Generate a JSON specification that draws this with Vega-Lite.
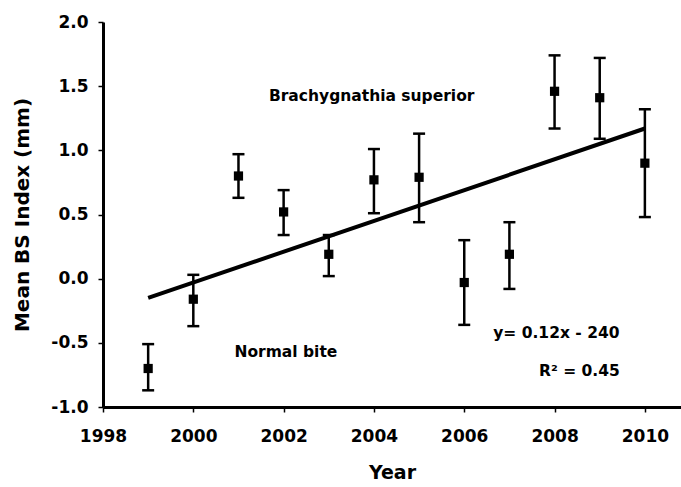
{
  "$schema": "https://vega.github.io/schema/vega-lite/v6.json",
  "width": 578,
  "height": 385,
  "autosize": {"type": "none"},
  "padding": {"left": 103, "top": 22, "right": 0, "bottom": 80},
  "background": "white",
  "config": {
    "view": {"stroke": null},
    "font": "DejaVu Sans",
    "axis": {
      "domainColor": "black", "domainWidth": 3, "tickColor": "black", "tickWidth": 1.5, "tickSize": 5,
      "labelFont": "DejaVu Sans", "labelFontWeight": "bold", "labelFontSize": 17, "labelColor": "black",
      "titleFont": "DejaVu Sans", "titleFontWeight": "bold", "titleColor": "black", "grid": false
    }
  },
  "datasets": {
    "pts": [
      {"year": 1999, "mean": -0.70, "lo": -0.87, "hi": -0.51},
      {"year": 2000, "mean": -0.16, "lo": -0.37, "hi": 0.03},
      {"year": 2001, "mean": 0.80, "lo": 0.63, "hi": 0.97},
      {"year": 2002, "mean": 0.52, "lo": 0.34, "hi": 0.69},
      {"year": 2003, "mean": 0.19, "lo": 0.02, "hi": 0.34},
      {"year": 2004, "mean": 0.77, "lo": 0.51, "hi": 1.01},
      {"year": 2005, "mean": 0.79, "lo": 0.44, "hi": 1.13},
      {"year": 2006, "mean": -0.03, "lo": -0.36, "hi": 0.30},
      {"year": 2007, "mean": 0.19, "lo": -0.08, "hi": 0.44},
      {"year": 2008, "mean": 1.46, "lo": 1.17, "hi": 1.74},
      {"year": 2009, "mean": 1.41, "lo": 1.09, "hi": 1.72},
      {"year": 2010, "mean": 0.90, "lo": 0.48, "hi": 1.32}
    ],
    "trend": [
      {"year": 1999, "fit": -0.15},
      {"year": 2010, "fit": 1.17}
    ],
    "notes": [
      {"year": 2003.95, "val": 1.42, "text": "Brachygnathia superior"},
      {"year": 2002.05, "val": -0.57, "text": "Normal bite"},
      {"year": 2008.04, "val": -0.42, "text": "y= 0.12x - 240"},
      {"year": 2008.55, "val": -0.72, "text": "R² = 0.45"}
    ]
  },
  "layer": [
    {
      "data": {"name": "trend"},
      "mark": {"type": "line", "color": "black", "strokeWidth": 4},
      "encoding": {
        "x": {"field": "year", "type": "quantitative",
              "scale": {"domain": [1998, 2010.8], "nice": false, "zero": false},
              "axis": {"values": [1998, 2000, 2002, 2004, 2006, 2008, 2010], "format": "d", "title": "Year",
                       "titleFontSize": 19, "titlePadding": 19, "labelPadding": 16, "labelFlush": false}},
        "y": {"field": "fit", "type": "quantitative",
              "scale": {"domain": [-1, 2], "nice": false, "zero": false},
              "axis": {"values": [-1, -0.5, 0, 0.5, 1, 1.5, 2], "format": ".1f", "title": "Mean BS Index (mm)",
                       "labelExpr": "replace(datum.label, '−', '-')",
                       "titleFontSize": 20, "titlePadding": 18, "labelPadding": 10}}
      }
    },
    {
      "data": {"name": "pts"},
      "mark": {"type": "rule", "color": "black", "strokeWidth": 2.5},
      "encoding": {
        "x": {"field": "year", "type": "quantitative"},
        "y": {"field": "lo", "type": "quantitative"},
        "y2": {"field": "hi"}
      }
    },
    {
      "data": {"name": "pts"},
      "mark": {"type": "tick", "orient": "horizontal", "color": "black", "size": 12, "thickness": 2.5, "opacity": 1},
      "encoding": {
        "x": {"field": "year", "type": "quantitative"},
        "y": {"field": "lo", "type": "quantitative"}
      }
    },
    {
      "data": {"name": "pts"},
      "mark": {"type": "tick", "orient": "horizontal", "color": "black", "size": 12, "thickness": 2.5, "opacity": 1},
      "encoding": {
        "x": {"field": "year", "type": "quantitative"},
        "y": {"field": "hi", "type": "quantitative"}
      }
    },
    {
      "data": {"name": "pts"},
      "mark": {"type": "square", "color": "black", "size": 85, "opacity": 1, "filled": true},
      "encoding": {
        "x": {"field": "year", "type": "quantitative"},
        "y": {"field": "mean", "type": "quantitative"}
      }
    },
    {
      "mark": {"type": "rule", "color": "black", "strokeWidth": 3},
      "encoding": {"y": {"datum": 2}}
    },
    {
      "data": {"name": "notes"},
      "mark": {"type": "text", "font": "DejaVu Sans", "fontWeight": "bold", "fontSize": 15.5, "color": "black", "align": "center", "baseline": "middle"},
      "encoding": {
        "x": {"field": "year", "type": "quantitative"},
        "y": {"field": "val", "type": "quantitative"},
        "text": {"field": "text"}
      }
    }
  ]
}
